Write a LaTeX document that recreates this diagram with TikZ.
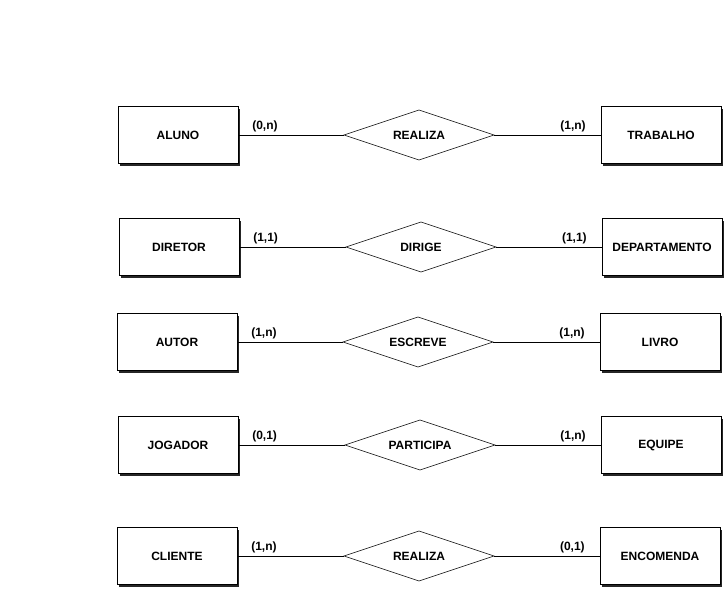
\documentclass[tikz,border=0pt]{standalone}
\usepackage{fontspec}
\setmainfont{Liberation Sans}
\usetikzlibrary{positioning,shapes.geometric,shadows}

\begin{document}
\begin{tikzpicture}[x=1pt, y=-1pt,
      every node/.style={font=\fontsize{12}{14}\selectfont\bfseries},
      entity/.style={rectangle, draw, line width=0.8pt, fill=white, minimum width=120pt, minimum height=57pt, outer sep=0pt,
        drop shadow={shadow xshift=2pt, shadow yshift=-2pt, fill=black!85, opacity=1}},
      rel/.style={diamond, draw, line width=0.6pt, aspect=3, minimum width=150pt, minimum height=50pt, inner sep=0pt, outer sep=0pt},
      link/.style={line width=0.6pt},
      cardl/.style={pos=0, anchor=south west, xshift=11pt, inner sep=3pt},
      cardr/.style={pos=1, anchor=south east, xshift=-12pt, inner sep=3pt}
  ]
    \useasboundingbox (0,0) rectangle (726,589);
    % linha 1
    \node[rel] (realiza) at (419,135) {REALIZA};
    \node[entity, left=106pt of realiza] (aluno) {ALUNO};
    \node[entity, right=107pt of realiza] (trabalho) {TRABALHO};
    % linha 2
    \node[rel] (dirige) at (421,247) {DIRIGE};
    \node[entity, left=107pt of dirige] (diretor) {DIRETOR};
    \node[entity, right=106pt of dirige] (depto) {DEPARTAMENTO};
    % linha 3
    \node[rel] (escreve) at (418,342) {ESCREVE};
    \node[entity, left=106pt of escreve] (autor) {AUTOR};
    \node[entity, right=107pt of escreve] (livro) {LIVRO};
    % linha 4
    \node[rel] (participa) at (420,445) {PARTICIPA};
    \node[entity, left=107pt of participa] (jogador) {JOGADOR};
    \node[entity, right=106pt of participa] (equipe) {EQUIPE};
    % linha 5
    \node[rel] (realizab) at (419,556) {REALIZA};
    \node[entity, left=107pt of realizab] (cliente) {CLIENTE};
    \node[entity, right=106pt of realizab] (encomenda) {ENCOMENDA};

    \draw[link] (aluno) -- (realiza) node[cardl] {(0,n)};
    \draw[link] (realiza) -- (trabalho) node[cardr] {(1,n)};
    \draw[link] (diretor) -- (dirige) node[cardl] {(1,1)};
    \draw[link] (dirige) -- (depto) node[cardr] {(1,1)};
    \draw[link] (autor) -- (escreve) node[cardl] {(1,n)};
    \draw[link] (escreve) -- (livro) node[cardr] {(1,n)};
    \draw[link] (jogador) -- (participa) node[cardl] {(0,1)};
    \draw[link] (participa) -- (equipe) node[cardr] {(1,n)};
    \draw[link] (cliente) -- (realizab) node[cardl] {(1,n)};
    \draw[link] (realizab) -- (encomenda) node[cardr] {(0,1)};
  \end{tikzpicture}
\end{document}
